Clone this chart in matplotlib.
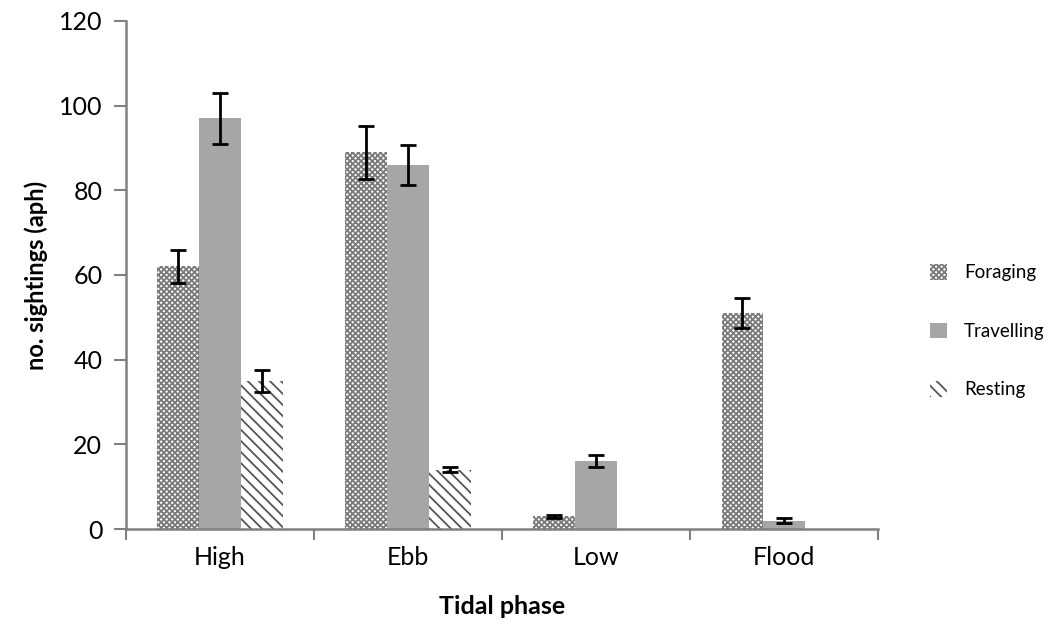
import numpy as np
from matplotlib import pyplot as plt

plt.rcParams['font.family'] = ['Lato', 'DejaVu Sans']
plt.rcParams['hatch.linewidth'] = 1.3

phases = ['High', 'Ebb', 'Low', 'Flood']
foraging = [62, 89, 3, 51]
foraging_err = [4, 6.3, 0.4, 3.5]
travelling = [97, 86, 16, 2]
travelling_err = [6, 4.7, 1.4, 0.5]
resting = [35, 14, 0, 0]
resting_err = [2.6, 0.6, 0, 0]

fig = plt.figure(figsize=(10.62, 6.34), dpi=100)
ax = fig.add_axes([0.1186, 0.1656, 0.7084, 0.8014])

x = np.arange(len(phases))
w = 1 / 4.5
axis_grey = '#808080'

err_kw = dict(ecolor='black', elinewidth=2, capsize=6, capthick=2)
ax.bar(x - w, foraging, w, color='white', edgecolor='#7a7a7a', hatch='xxxxxx',
       linewidth=0, label='Foraging', yerr=foraging_err, error_kw=err_kw)
ax.bar(x, travelling, w, color='#a6a6a6', linewidth=0, label='Travelling',
       yerr=travelling_err, error_kw=err_kw)
ax.bar(x + w, resting, w, color='white', edgecolor='#555555', hatch='\\\\\\',
       linewidth=0, label='Resting')
idx = [i for i in range(len(resting)) if resting[i] > 0]
ax.errorbar(x[idx] + w, [resting[i] for i in idx], yerr=[resting_err[i] for i in idx],
            fmt='none', **err_kw)

ax.set_xlim(-0.5, len(phases) - 0.5)
ax.set_ylim(0, 120)
ax.set_yticks(range(0, 121, 20))
ax.set_xticks(x)
ax.set_xticklabels(phases)
ax.set_xticks(np.arange(-0.5, len(phases), 1), minor=True)
ax.tick_params(axis='x', which='major', length=0, labelsize=18, pad=12)
ax.tick_params(axis='x', which='minor', length=8, width=1.5, color=axis_grey)
ax.tick_params(axis='y', length=9, width=1.5, color=axis_grey, labelsize=18, pad=8)

for s in ['top', 'right']:
    ax.spines[s].set_visible(False)
for s in ['left', 'bottom']:
    ax.spines[s].set_color(axis_grey)
    ax.spines[s].set_linewidth(1.8)

ax.set_xlabel('Tidal phase', fontsize=18, fontweight='bold', labelpad=19)
ax.set_ylabel('no. sightings (aph)', fontsize=17, fontweight='bold', labelpad=8)

fig.legend(loc='upper left', bbox_to_anchor=(0.86, 0.61), frameon=False,
           fontsize=13.5, labelspacing=2.2, handlelength=0.9, handleheight=0.9,
           handletextpad=0.9)

fig.savefig('out.png', dpi=100)
